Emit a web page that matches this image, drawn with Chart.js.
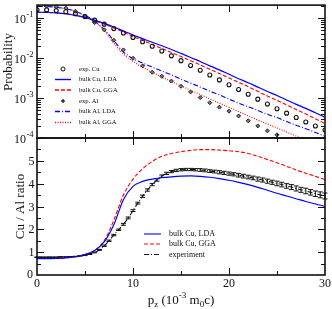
<!DOCTYPE html>
<html>
<head>
<meta charset="utf-8">
<script src="https://cdn.jsdelivr.net/npm/chart.js@4.4.1/dist/chart.umd.min.js"></script>
<style>
  html, body { margin: 0; padding: 0; background: #fff; }
  #wrap { position: relative; width: 332px; height: 309px; overflow: hidden; }
  canvas { position: absolute; left: 0; }
  #top { top: 0; }
  #bot { top: 130px; }
</style>
</head>
<body>
<div id="wrap">
  <canvas id="top" width="332" height="150"></canvas>
  <canvas id="bot" width="332" height="179"></canvas>
</div>
<script>
// momentum p_z (10^-3 m0c)
const pz = [0, 1, 2, 3, 4, 5, 6, 7, 8, 9, 10, 11, 12, 13, 14, 15, 16, 17, 18, 19, 20,
            21, 22, 23, 24, 25, 26, 27, 28, 29, 30];
const pzExp = [0, 0.5, 1, 1.5, 2, 2.5, 3, 3.5, 4, 4.5, 5, 5.5, 6, 6.5, 7, 7.5, 8, 8.5, 9, 9.5,
               10, 10.5, 11, 11.5, 12, 12.5, 13, 13.5, 14, 14.5, 15, 15.5, 16, 16.5, 17, 17.5,
               18, 18.5, 19, 19.5, 20, 20.5, 21, 21.5, 22, 22.5, 23, 23.5, 24, 24.5, 25, 25.5,
               26, 26.5, 27, 27.5, 28, 28.5, 29, 29.5, 30];

// top panel: probabilities
const expCu = [0.158, 0.157, 0.151, 0.141, 0.126, 0.107, 0.0871, 0.0692, 0.0537, 0.0417, 0.0324,
               0.0251, 0.0195, 0.0148, 0.0112, 0.00851, 0.00646, 0.00490, 0.00372, 0.00282, 0.00214,
               0.00162, 0.00123, 0.000933, 0.000708, 0.000537, 0.000417, 0.000324, 0.000251, 0.000200, 0.000158];
const cuLDA = [0.138, 0.136, 0.133, 0.126, 0.115, 0.102, 0.0871, 0.0724, 0.0589, 0.0468, 0.0372,
               0.0302, 0.0245, 0.0200, 0.0162, 0.0129, 0.0102, 0.00813, 0.00631, 0.00501, 0.00389,
               0.00302, 0.00240, 0.00186, 0.00145, 0.00115, 0.000891, 0.000692, 0.000550, 0.000427, 0.000331];
const cuGGA = [0.138, 0.136, 0.133, 0.126, 0.115, 0.100, 0.0841, 0.0692, 0.0556, 0.0437, 0.0343,
               0.0272, 0.0216, 0.0172, 0.0136, 0.0108, 0.00851, 0.00668, 0.00519, 0.00407, 0.00316,
               0.00245, 0.00191, 0.00146, 0.00112, 0.000871, 0.000668, 0.000513, 0.000398, 0.000302, 0.000229];
const expAl = [0.200, 0.197, 0.191, 0.174, 0.145, 0.110, 0.0759, 0.0501, 0.0275, 0.0158, 0.00977,
               0.00631, 0.00437, 0.00347, 0.00263, 0.00195, 0.00141, 0.00102, 0.000759, 0.000589, 0.000468,
               0.000355, 0.000269, 0.000200, 0.000151, 0.000120, 0.0000933];
const alLDA = [0.191, 0.191, 0.182, 0.168, 0.145, 0.114, 0.0832, 0.0513, 0.0269, 0.0140, 0.00955,
               0.00741, 0.00589, 0.00468, 0.00380, 0.00295, 0.00234, 0.00188, 0.00148, 0.00119, 0.000933,
               0.000741, 0.000603, 0.000490, 0.000389, 0.000324, 0.000257, 0.000209, 0.000170, 0.000138, 0.000110];
const alGGA = [0.191, 0.191, 0.182, 0.168, 0.145, 0.111, 0.0794, 0.0479, 0.0232, 0.0123, 0.00818,
               0.00585, 0.00437, 0.00331, 0.00257, 0.00200, 0.00155, 0.00122, 0.000944, 0.000741, 0.000582,
               0.000457, 0.000355, 0.000282, 0.000224, 0.000178, 0.000141, 0.000112, 0.0000891, 0.0000700, 0.0000550];

// bottom panel: Cu / Al ratio
const ratioLDA = [0.72, 0.72, 0.73, 0.75, 0.80, 0.90, 1.07, 1.45, 2.2, 3.3, 3.88, 4.1, 4.2, 4.26, 4.3,
                  4.33, 4.34, 4.32, 4.28, 4.22, 4.15, 4.06, 3.96, 3.84, 3.71, 3.58, 3.46, 3.34, 3.22, 3.11, 3.01];
const ratioGGA = [0.72, 0.72, 0.73, 0.75, 0.80, 0.90, 1.07, 1.50, 2.4, 3.5, 4.2, 4.65, 4.97, 5.2, 5.32,
                  5.4, 5.46, 5.49, 5.49, 5.47, 5.44, 5.40, 5.32, 5.20, 5.06, 4.92, 4.76, 4.6, 4.46, 4.32, 4.18];
const ratioExp = [0.78, 0.78, 0.78, 0.78, 0.78, 0.79, 0.79, 0.80, 0.81, 0.84, 0.87, 0.92, 0.99, 1.10, 1.28,
                  1.50, 1.75, 1.98, 2.22, 2.50, 2.82, 3.15, 3.45, 3.72, 3.96, 4.16, 4.33, 4.45, 4.53, 4.58,
                  4.61, 4.62, 4.62, 4.61, 4.60, 4.58, 4.55, 4.53, 4.50, 4.47, 4.44, 4.41, 4.37, 4.33, 4.29,
                  4.25, 4.20, 4.16, 4.11, 4.06, 4.01, 3.96, 3.90, 3.85, 3.79, 3.73, 3.68, 3.62, 3.56, 3.51, 3.46];
const ratioErr = [0.01, 0.01, 0.01, 0.01, 0.01, 0.01, 0.01, 0.01, 0.01, 0.01, 0.02, 0.02, 0.02, 0.02, 0.03,
                  0.03, 0.03, 0.03, 0.04, 0.04, 0.04, 0.04, 0.05, 0.05, 0.05, 0.05, 0.05, 0.05, 0.05, 0.05,
                  0.05, 0.05, 0.05, 0.05, 0.06, 0.06, 0.06, 0.06, 0.07, 0.07, 0.07, 0.07, 0.08, 0.08, 0.08,
                  0.08, 0.09, 0.09, 0.09, 0.09, 0.10, 0.10, 0.10, 0.11, 0.11, 0.11, 0.12, 0.12, 0.12, 0.13, 0.13];

const xTicks = [0, 5, 10, 15, 20, 25, 30];
const xLabels = [0, 10, 20, 30];
const yRatioTicks = [0, 0.5, 1, 1.5, 2, 2.5, 3, 3.5, 4, 4.5, 5, 5.5, 6];
const yRatioLabels = [0, 1, 2, 3, 4, 5];
const decades = [-4, -3, -2, -1];

const SERIF = '"Liberation Serif", "DejaVu Serif", serif';
const BLUE = '#0000ff', RED = '#ff0000', INK = '#111';

const pts = (xs, ys) => ys.map((v, i) => ({ x: xs[i], y: v }));

function line(label, xs, ys, color, dash, width) {
  return { label, data: pts(xs, ys), borderColor: color, borderWidth: width || 1.1,
           borderDash: dash || [], pointRadius: 0, fill: false, tension: 0 };
}

function text(ctx, str, x, y, size, align, baseline) {
  ctx.font = size + 'px ' + SERIF;
  ctx.textAlign = align || 'left';
  ctx.textBaseline = baseline || 'alphabetic';
  ctx.fillText(str, x, y);
  return ctx.measureText(str).width;
}

// draws "10" with an exponent
function powerLabel(ctx, exp, xRight, y) {
  ctx.fillStyle = INK;
  text(ctx, '10', xRight - 7, y + 2, 12, 'right', 'middle');
  text(ctx, '-' + (-exp), xRight - 6.5, y - 3, 8.5, 'left', 'middle');
}

function sampleLine(ctx, x0, x1, y, color, dash, width) {
  ctx.save();
  ctx.strokeStyle = color;
  ctx.lineWidth = width || 1.1;
  ctx.setLineDash(dash || []);
  ctx.beginPath();
  ctx.moveTo(x0, y + 0.5);
  ctx.lineTo(x1, y + 0.5);
  ctx.stroke();
  ctx.restore();
}

function xTickMarks(ctx, a, x) {
  xTicks.forEach(v => {
    if (v <= 0 || v >= 30) return;
    const px = Math.round(x.getPixelForValue(v)) + 0.5;
    const len = v % 10 === 0 ? 7 : 4;
    ctx.moveTo(px, a.bottom); ctx.lineTo(px, a.bottom - len);
    ctx.moveTo(px, a.top); ctx.lineTo(px, a.top + len);
  });
}

const topPlugin = {
  id: 'topFrame',
  afterDraw(chart) {
    const { ctx, chartArea: a, scales: { x, y } } = chart;
    ctx.save();
    ctx.strokeStyle = INK;
    ctx.lineWidth = 1;
    ctx.beginPath();
    xTickMarks(ctx, a, x);
    decades.forEach(e => {
      for (let k = 1; k <= 9; k++) {
        const v = k * Math.pow(10, e);
        if (v > y.max) break;
        const py = Math.round(y.getPixelForValue(v)) + 0.5;
        const len = k === 1 ? 7 : 4;
        ctx.moveTo(a.left, py); ctx.lineTo(a.left + len, py);
        ctx.moveTo(a.right, py); ctx.lineTo(a.right - len, py);
      }
    });
    ctx.stroke();
    ctx.lineWidth = 1.6;
    ctx.strokeRect(a.left, a.top, a.right - a.left, a.bottom - a.top);

    decades.forEach(e => powerLabel(ctx, e, 33, y.getPixelForValue(Math.pow(10, e))));

    // y title
    ctx.save();
    ctx.translate(9, 62);
    ctx.rotate(-Math.PI / 2);
    ctx.fillStyle = INK;
    text(ctx, 'Probability', 0, 0, 13, 'center', 'middle');
    ctx.restore();

    // legend
    const rows = [
      ['exp. Cu', 'circle'], ['bulk Cu, LDA', BLUE, []], ['bulk Cu, GGA', RED, [4, 2]],
      ['exp. Al', 'diamond'], ['bulk Al, LDA', BLUE, [5, 2, 1, 2]], ['bulk Al, GGA', RED, [1, 1.5]]
    ];
    const rowY = [69, 79.5, 90, 101, 111.5, 122.5];
    rows.forEach((r, i) => {
      const yy = rowY[i];
      if (r[1] === 'circle') {
        ctx.beginPath(); ctx.lineWidth = 1; ctx.strokeStyle = INK;
        ctx.arc(63, yy, 2, 0, Math.PI * 2); ctx.stroke();
      } else if (r[1] === 'diamond') {
        ctx.beginPath(); ctx.fillStyle = '#333';
        ctx.moveTo(63, yy - 2.2); ctx.lineTo(65.2, yy); ctx.lineTo(63, yy + 2.2); ctx.lineTo(60.8, yy);
        ctx.closePath(); ctx.fill();
      } else {
        sampleLine(ctx, 55, 71, yy - 0.5, r[1], r[2], 1.4);
      }
      ctx.fillStyle = INK;
      text(ctx, r[0], 79, yy, 6.6, 'left', 'middle');
    });
    ctx.restore();
  }
};

const botPlugin = {
  id: 'botFrame',
  beforeDatasetsDraw(chart) {
    // experimental error bars
    const { ctx, scales: { x, y } } = chart;
    ctx.save();
    ctx.strokeStyle = INK;
    ctx.lineWidth = 1;
    ctx.beginPath();
    ratioExp.forEach((v, i) => {
      const px = x.getPixelForValue(pzExp[i]);
      const hi = y.getPixelForValue(v + ratioErr[i]);
      const lo = y.getPixelForValue(v - ratioErr[i]);
      ctx.moveTo(px, hi); ctx.lineTo(px, lo);
      ctx.moveTo(px - 2.5, hi); ctx.lineTo(px + 2.5, hi);
      ctx.moveTo(px - 2.5, lo); ctx.lineTo(px + 2.5, lo);
    });
    ctx.stroke();
    ctx.restore();
  },
  afterDraw(chart) {
    const { ctx, chartArea: a, scales: { x, y } } = chart;
    ctx.save();
    ctx.strokeStyle = INK;
    ctx.lineWidth = 1;
    ctx.beginPath();
    xTickMarks(ctx, a, x);
    yRatioTicks.forEach(v => {
      if (v <= 0 || v >= 6) return;
      const py = Math.round(y.getPixelForValue(v)) + 0.5;
      const len = Number.isInteger(v) ? 7 : 4;
      ctx.moveTo(a.left, py); ctx.lineTo(a.left + len, py);
      ctx.moveTo(a.right, py); ctx.lineTo(a.right - len, py);
    });
    ctx.stroke();
    ctx.lineWidth = 1.6;
    ctx.strokeRect(a.left, a.top, a.right - a.left, a.bottom - a.top);

    ctx.fillStyle = INK;
    xLabels.forEach(v => text(ctx, String(v), x.getPixelForValue(v), a.bottom + 8.5, 12, 'center', 'middle'));
    yRatioLabels.forEach(v => text(ctx, String(v), v === 0 ? 33 : 34.5, y.getPixelForValue(v) + (v === 0 ? 0 : 1), 12, 'right', 'middle'));

    // y title
    ctx.save();
    ctx.translate(21, (a.top + a.bottom) / 2);
    ctx.rotate(-Math.PI / 2);
    text(ctx, 'Cu / Al ratio', 0, 0, 13, 'center', 'middle');
    ctx.restore();

    // x title: p_z (10^-3 m_0 c)
    const parts = [['p', 13, 0], ['z', 9, 3], [' (10', 13, 0], ['-3', 9, -6], [' m', 13, 0], ['0', 9, 3], ['c)', 13, 0]];
    let total = 0;
    parts.forEach(p => { ctx.font = p[1] + 'px ' + SERIF; total += ctx.measureText(p[0]).width; });
    let cx = (a.left + a.right) / 2 - total / 2;
    const base = a.bottom + 29;
    parts.forEach(p => { cx += text(ctx, p[0], cx, base + p[2], p[1], 'left', 'alphabetic'); });

    // legend
    const rows = [['bulk Cu, LDA', BLUE, []], ['bulk Cu, GGA', RED, [4, 2]], ['experiment', INK, [5, 2, 1, 2]]];
    const rowY = [234, 244, 254.5];
    rows.forEach((r, i) => {
      const yy = rowY[i] - 130;
      sampleLine(ctx, 144, 161, yy - 0.5, r[1], r[2], 1.1);
      ctx.fillStyle = INK;
      text(ctx, r[0], 169, yy, 8, 'left', 'middle');
    });
    ctx.restore();
  }
};

const hiddenAxis = (extra) => Object.assign({
  type: 'linear',
  grid: { display: false },
  border: { display: false },
  ticks: { display: false }
}, extra);

Chart.defaults.font.family = SERIF;

new Chart(document.getElementById('top'), {
  type: 'line',
  data: {
    datasets: [
      { label: 'exp. Cu', data: pts(pz, expCu), showLine: false, pointStyle: 'circle', pointRadius: 2,
        pointBorderColor: INK, pointBackgroundColor: 'rgba(0,0,0,0)', pointBorderWidth: 1.1 },
      line('bulk Cu, LDA', pz, cuLDA, BLUE, [], 1.2),
      line('bulk Cu, GGA', pz, cuGGA, RED, [4, 2], 1.1),
      { label: 'exp. Al', data: pts(pz, expAl), showLine: false, pointStyle: 'rectRot', pointRadius: 2,
        pointBorderColor: '#222', pointBackgroundColor: '#777', pointBorderWidth: 1 },
      line('bulk Al, LDA', pz, alLDA, BLUE, [5, 2, 1, 2], 1.1),
      line('bulk Al, GGA', pz, alGGA, RED, [1, 1.5], 1.1)
    ].map(d => Object.assign(d, { cubicInterpolationMode: 'monotone' }))
  },
  options: {
    responsive: false, animation: false, devicePixelRatio: 1,
    layout: { padding: { left: 37, right: 7, top: 2, bottom: 12 } },
    plugins: { legend: { display: false }, tooltip: { enabled: false } },
    scales: {
      x: hiddenAxis({ min: 0, max: 30, afterFit: s => { s.height = 0; } }),
      y: hiddenAxis({ type: 'logarithmic', min: 1e-4, max: 0.207, afterFit: s => { s.width = 0; } })
    }
  },
  plugins: [topPlugin]
});

new Chart(document.getElementById('bot'), {
  type: 'line',
  data: {
    datasets: [
      line('bulk Cu, LDA', pz, ratioLDA, BLUE, [], 1.2),
      line('bulk Cu, GGA', pz, ratioGGA, RED, [4, 2], 1.1),
      line('experiment', pzExp, ratioExp, INK, [5, 2, 1, 2], 1.1)
    ].map(d => Object.assign(d, { cubicInterpolationMode: 'monotone' }))
  },
  options: {
    responsive: false, animation: false, devicePixelRatio: 1,
    layout: { padding: { left: 37, right: 7, top: 8, bottom: 34 } },
    plugins: { legend: { display: false }, tooltip: { enabled: false } },
    scales: {
      x: hiddenAxis({ min: 0, max: 30, afterFit: s => { s.height = 0; } }),
      y: hiddenAxis({ min: 0, max: 6, afterFit: s => { s.width = 0; } })
    }
  },
  plugins: [botPlugin]
});
</script>
</body>
</html>
